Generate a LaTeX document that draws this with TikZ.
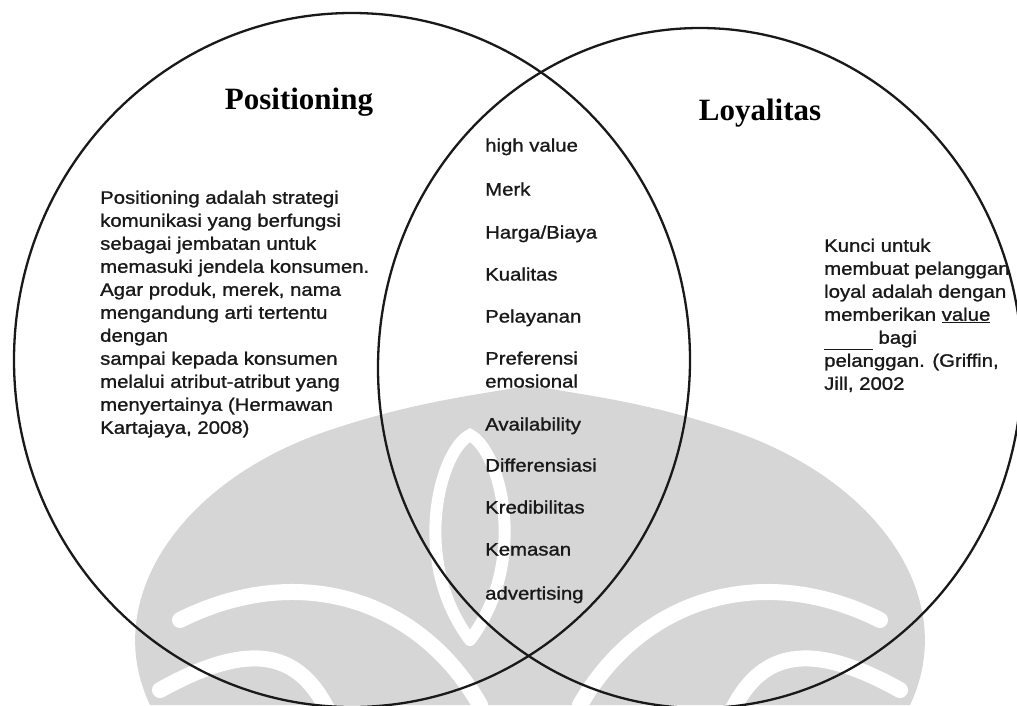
\documentclass[tikz,border=0pt]{standalone}
\usepackage{fontspec}
\setmainfont{Liberation Serif}
\newfontfamily\bodyfont[FakeStretch=1.13,FakeBold=1.2]{Liberation Sans}
\tikzset{
  vennline/.style={line width=2.3pt, black!90},
  titletext/.style={inner sep=0pt, font=\fontsize{31}{34}\selectfont\bfseries},
  bodytext/.style={inner sep=0pt, align=left, font=\bodyfont\fontsize{18}{23}\selectfont, text=black!90},
  itemtext/.style={inner sep=0pt, anchor=base west, font=\bodyfont\fontsize{18}{23}\selectfont, text=black!90},
  wmfill/.style={fill=black!16, draw=none},
  wmband/.style={draw=white, line width=16pt, line cap=round}
}
\begin{document}
\begin{tikzpicture}[x=1pt,y=-1pt]
\useasboundingbox (0,0) rectangle (1017,705);
\clip (0,0) rectangle (1017,705);
% watermark (rough)
\path[wmfill] (150,705) .. controls (100,600) and (180,480) .. (330,430) .. controls (420,400) and (480,395) .. (530,385) .. controls (580,395) and (640,400) .. (730,430) .. controls (880,480) and (960,600) .. (910,705) -- cycle;
\draw[wmband] (480,705) .. controls (420,600) and (300,560) .. (180,620);
\draw[wmband] (580,705) .. controls (640,600) and (760,560) .. (880,620);
\draw[wmband] (330,715) .. controls (300,650) and (250,640) .. (160,690);
\draw[wmband] (730,715) .. controls (760,650) and (810,640) .. (900,690);
\draw[wmband, line width=12pt] (470,640) .. controls (410,560) and (440,450) .. (470,435) .. controls (500,450) and (530,560) .. (470,640);
% circles
\node[draw=none, inner sep=0pt] (lc) at (352,360) {};
\node[draw=none, inner sep=0pt] (rc) at (700,368) {};
\draw[vennline] (lc) ellipse [x radius=338pt, y radius=347pt];
\draw[vennline] (rc) ellipse [x radius=322pt, y radius=340pt];
% titles
\node[titletext] (tpos) at (299,102) {Positioning};
\node[titletext] (tloy) at (760,113) {Loyalitas};
% left text
\node[bodytext, anchor=north west] (ltext) at (100,190.5) {Positioning adalah strategi\\
komunikasi yang berfungsi\\
sebagai jembatan untuk\\
memasuki jendela konsumen.\\
Agar produk, merek, nama\\
mengandung arti tertentu\\
dengan\\
sampai kepada konsumen\\
melalui atribut-atribut yang\\
menyertainya (Hermawan\\
Kartajaya, 2008)};
% middle items
\node[itemtext] (m0) at (485,151.5) {high value};
\node[itemtext] (m1) at (485,195.5) {Merk};
\node[itemtext] (m2) at (485,238.5) {Harga/Biaya};
\node[itemtext] (m3) at (485,280.5) {Kualitas};
\node[itemtext] (m4) at (485,322.5) {Pelayanan};
\node[itemtext] (m5) at (485,364.5) {Preferensi};
\node[itemtext] (m5b) at (485,387.5) {emosional};
\node[itemtext] (m6) at (485,430.5) {Availability};
\node[itemtext] (m7) at (485,471.5) {Differensiasi};
\node[itemtext] (m8) at (485,513.5) {Kredibilitas};
\node[itemtext] (m9) at (485,555.5) {Kemasan};
\node[itemtext] (m10) at (485,599.5) {advertising};
% right text
\node[bodytext, anchor=north west] (rtext) at (824,238.5) {Kunci untuk\\
membuat pelanggan\\
loyal adalah dengan\\
memberikan \underline{value}\\
\underline{\phantom{tinggi}} bagi\\
pelanggan. (Griffin,\\
Jill, 2002};
\end{tikzpicture}
\end{document}
